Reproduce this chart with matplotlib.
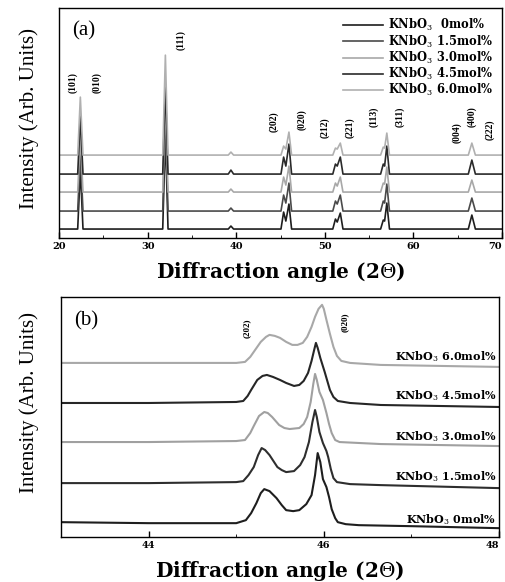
import numpy as np
import matplotlib
matplotlib.use('Agg')
import matplotlib.pyplot as plt
from matplotlib.ticker import MultipleLocator

plt.rcParams['font.family'] = ['Liberation Serif', 'DejaVu Serif']
plt.rcParams['mathtext.fontset'] = 'dejavuserif'
WIDE = ['DejaVu Serif']

# ---- panel (a): full patterns ----
series_names = ['KNbO$_3$  0mol%', 'KNbO$_3$ 1.5mol%', 'KNbO$_3$ 3.0mol%',
                'KNbO$_3$ 4.5mol%', 'KNbO$_3$ 6.0mol%']
colors = ['#1e1e1e', '#4a4a4a', '#a8a8a8', '#2a2a2a', '#b0b0b0']

two_theta_a = [20.0, 22.1, 22.4, 22.7, 31.7, 32.0, 32.3, 39.1, 39.4, 39.7,
               45.05, 45.35, 45.6, 45.95, 46.25, 50.9, 51.2, 51.4, 51.75, 52.05,
               56.3, 56.6, 56.75, 57.0, 57.3, 66.2, 66.6, 67.0, 70.0]
heights_a = [
    [0, 0, 60, 0, 0, 95, 0, 0, 3, 0, 0, 17, 8, 25, 0, 0, 10, 7, 16, 0, 0, 9, 8, 26, 0, 0, 14, 0, 0],
    [0, 0, 58, 0, 0, 92, 0, 0, 3, 0, 0, 16, 8, 28, 0, 0, 10, 7, 16, 0, 0, 10, 8, 27, 0, 0, 13, 0, 0],
    [0, 0, 56, 0, 0, 95, 0, 0, 3, 0, 0, 15, 7, 26, 0, 0, 9, 6, 15, 0, 0, 9, 8, 25, 0, 0, 12, 0, 0],
    [0, 0, 58, 0, 0, 89, 0, 0, 4, 0, 0, 17, 8, 30, 0, 0, 10, 8, 17, 0, 0, 10, 8, 28, 0, 0, 14, 0, 0],
    [0, 0, 58, 0, 0, 100, 0, 0, 3, 0, 0, 9, 6, 23, 0, 0, 7, 6, 12, 0, 0, 8, 7, 22, 0, 0, 12, 0, 0],
]
offsets_a = [9, 27, 46, 64, 83]
ticks_a = [20, 30, 40, 50, 60, 70]

hkl_a = ['(101)', '(010)', '(111)', '(202)', '(020)', '(212)', '(221)',
         '(113)', '(311)', '(004)', '(400)', '(222)']
hkl_a_x = [21.5, 24.3, 33.7, 44.2, 47.4, 50.0, 52.8, 55.5, 58.5, 64.9, 66.6, 68.6]
hkl_a_y = [156, 156, 198, 116, 118, 110, 110, 121, 121, 105, 121, 108]

# ---- panel (b): zoom on (202)/(020) ----
b_x = [
    [43.0, 44.0, 45.0, 45.11, 45.17, 45.23, 45.28, 45.32, 45.38, 45.46, 45.52, 45.57,
     45.65, 45.72, 45.80, 45.86, 45.90, 45.93, 45.96, 45.99, 46.03, 46.06, 46.09,
     46.13, 46.16, 46.25, 46.4, 47.0, 48.0],
    [43.0, 44.0, 45.0, 45.08, 45.14, 45.20, 45.25, 45.29, 45.33, 45.38, 45.47, 45.52,
     45.57, 45.66, 45.73, 45.78, 45.83, 45.87, 45.90, 45.92, 45.95, 45.99, 46.03,
     46.05, 46.08, 46.11, 46.15, 46.3, 46.65, 48.0],
    [43.0, 44.0, 45.0, 45.10, 45.16, 45.20, 45.26, 45.32, 45.36, 45.41, 45.49, 45.55,
     45.61, 45.72, 45.77, 45.81, 45.85, 45.88, 45.90, 45.92, 45.95, 45.99, 46.03,
     46.06, 46.09, 46.13, 46.18, 46.65, 48.0],
    [43.0, 44.0, 45.0, 45.08, 45.13, 45.17, 45.24, 45.30, 45.35, 45.42, 45.50, 45.57,
     45.66, 45.72, 45.77, 45.82, 45.86, 45.89, 45.91, 45.93, 45.96, 46.01, 46.04,
     46.07, 46.11, 46.16, 46.3, 46.65, 48.0],
    [43.0, 44.0, 45.0, 45.10, 45.16, 45.20, 45.28, 45.34, 45.38, 45.44, 45.50, 45.57,
     45.64, 45.70, 45.76, 45.81, 45.86, 45.90, 45.94, 45.98, 46.00, 46.03, 46.07,
     46.11, 46.15, 46.20, 46.3, 46.65, 48.0],
]
b_y = [
    [15, 14, 14, 17, 24, 34, 44, 48, 46, 39, 32, 27, 26, 27, 33, 42, 62, 84, 75, 58,
     50, 40, 28, 19, 15, 13, 12, 11, 9],
    [54, 54, 55, 56, 62, 70, 82, 89, 87, 82, 70, 67, 65, 66, 72, 80, 95, 115, 127,
     120, 105, 94, 86, 80, 68, 59, 55, 53, 52, 49],
    [95, 95, 96, 97, 104, 111, 121, 125, 124, 120, 112, 109, 108, 109, 113, 120, 135,
     153, 163, 157, 145, 137, 124, 113, 104, 97, 95, 93, 91],
    [134, 134, 135, 136, 141, 147, 157, 161, 162, 160, 157, 154, 151, 152, 156, 164,
     176, 187, 194, 189, 179, 165, 156, 147, 140, 136, 134, 132, 130],
    [174, 174, 174, 175, 180, 185, 195, 200, 202, 201, 199, 195, 192, 192, 194, 200,
     210, 220, 228, 232, 228, 217, 203, 190, 181, 176, 174, 172, 170],
]
colors_b = ['#1e1e1e', '#2e2e2e', '#a0a0a0', '#262626', '#a8a8a8']
labels_b = ['KNbO$_3$ 0mol%', 'KNbO$_3$ 1.5mol%', 'KNbO$_3$ 3.0mol%',
            'KNbO$_3$ 4.5mol%', 'KNbO$_3$ 6.0mol%']
labels_b_y = [18, 60, 100, 141, 180]
ticks_b = [44, 46, 48]
hkl_b = ['(202)', '(020)']
hkl_b_x = [45.12, 46.24]
hkl_b_y = [209, 215]

fig = plt.figure(figsize=(5.05, 5.82), dpi=100)
axa = fig.add_axes([0.117, 0.591, 0.877, 0.395])
axb = fig.add_axes([0.121, 0.077, 0.867, 0.413])

for h, off, c, name in zip(heights_a, offsets_a, colors, series_names):
    axa.plot(two_theta_a, np.array(h) + off, color=c, lw=1.2, label=name)
for t, x, y in zip(hkl_a, hkl_a_x, hkl_a_y):
    axa.text(x, y, t, rotation=90, ha='center', va='center', fontsize=7,
             fontweight='bold')
axa.set_xlim(20, 70)
axa.set_ylim(0, 230)
axa.set_yticks([])
axa.xaxis.set_minor_locator(MultipleLocator(5))
axa.text(0.03, 0.9, '(a)', transform=axa.transAxes, fontsize=15, va='center')
axa.legend(loc='upper right', frameon=False, handlelength=3.5, handletextpad=0.4,
           labelspacing=0.0, prop={'family': WIDE, 'weight': 'bold', 'size': 8.3},
           borderaxespad=0.4)
axa.set_ylabel('Intensity (Arb. Units)', fontsize=15)
axa.yaxis.set_label_coords(-0.045, 0.52)

for x, y, c in zip(b_x, b_y, colors_b):
    axb.plot(x, y, color=c, lw=1.5)
for t, y in zip(labels_b, labels_b_y):
    axb.text(47.97, y, t, ha='right', va='center', fontsize=8, fontweight='bold',
             family=WIDE)
for t, x, y in zip(hkl_b, hkl_b_x, hkl_b_y):
    axb.text(x, y, t, rotation=90, ha='center', va='center', fontsize=6.5,
             fontweight='bold')
axb.set_xlim(43, 48)
axb.set_ylim(0, 240)
axb.set_yticks([])
axb.xaxis.set_minor_locator(MultipleLocator(1))
axb.text(0.03, 0.9, '(b)', transform=axb.transAxes, fontsize=15, va='center')
axb.set_ylabel('Intensity (Arb. Units)', fontsize=15)
axb.yaxis.set_label_coords(-0.05, 0.56)

for ax, ticks in ((axa, ticks_a), (axb, ticks_b)):
    ax.set_xticks(ticks, [str(t) for t in ticks], family=WIDE,
                  fontweight='bold', fontsize=7)
    ax.get_xticklabels()[-1].set_horizontalalignment('right')
    ax.set_xlabel('Diffraction angle (2$\\Theta$)', fontsize=14.5, fontweight='bold',
                  family=WIDE, labelpad=6)
    ax.tick_params(axis='x', direction='in', length=4, width=1, pad=3)
    ax.tick_params(axis='x', which='minor', direction='in', length=2.5)
    for s in ax.spines.values():
        s.set_linewidth(1.0)

fig.savefig('out.png', dpi=100)
